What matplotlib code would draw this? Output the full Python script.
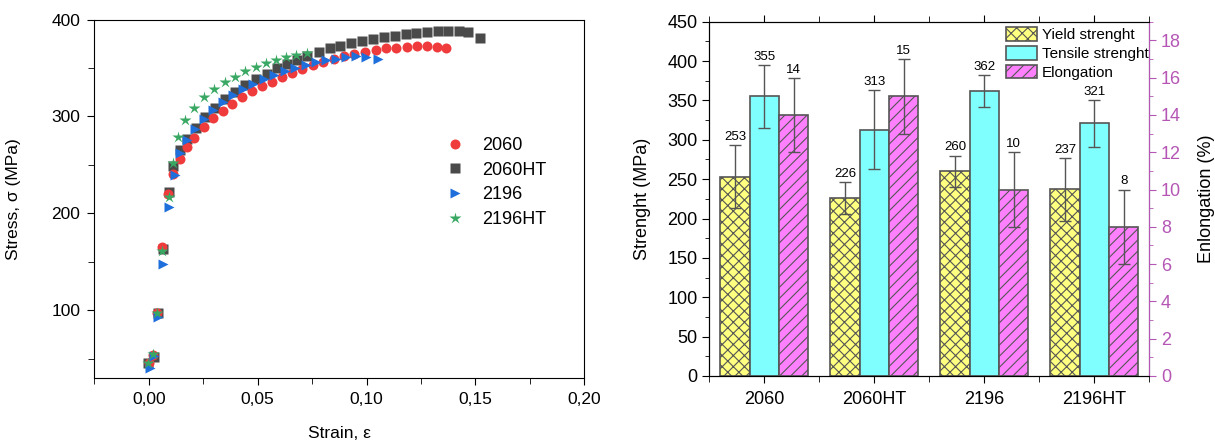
import numpy as np
import matplotlib.pyplot as plt
from matplotlib.ticker import MultipleLocator, FuncFormatter

plt.rcParams['font.family'] = ['Liberation Sans', 'DejaVu Sans']
plt.rcParams['hatch.linewidth'] = 0.8

### Stress-strain curves
strain_2060 = [0.0000, 0.0020, 0.0037, 0.0061, 0.0089, 0.0110, 0.0142, 0.0176, 0.0210,
               0.0252, 0.0296, 0.0339, 0.0383, 0.0427, 0.0474, 0.0519, 0.0564, 0.0613,
               0.0657, 0.0705, 0.0753, 0.0802, 0.0849, 0.0895, 0.0941, 0.0993, 0.1045,
               0.1091, 0.1136, 0.1185, 0.1231, 0.1278, 0.1324, 0.1365]
stress_2060 = [46, 54, 97, 165, 220, 241, 256, 268, 278,
               289, 298, 306, 313, 320, 326, 331, 336, 341,
               345, 349, 353, 356.5, 359.5, 362, 364.5, 367, 368.6,
               370.4, 370.7, 371.4, 372.4, 372.8, 371.4, 370.4]

strain_2060ht = [-0.0005, 0.0023, 0.0043, 0.0066, 0.0092, 0.0110, 0.0144, 0.0178, 0.0215,
                 0.0260, 0.0305, 0.0351, 0.0397, 0.0442, 0.0491, 0.0542, 0.0587, 0.0633,
                 0.0683, 0.0729, 0.0782, 0.0831, 0.0879, 0.0927, 0.0979, 0.1029, 0.1080,
                 0.1130, 0.1182, 0.1229, 0.1278, 0.1327, 0.1376, 0.1423, 0.1468, 0.1520]
stress_2060ht = [45, 52, 97, 163, 222, 249, 265, 277, 288,
                 299, 309, 318, 325.6, 332.5, 338.7, 343.8, 349.7, 353.9,
                 358.3, 362.4, 366.9, 370.4, 372.9, 375.5, 378.2, 380, 382.3,
                 383.4, 385.5, 386.5, 387.5, 388.2, 388.2, 388.2, 387.2, 380.7]

strain_2196 = [0.0005, 0.0023, 0.0041, 0.0066, 0.0095, 0.0119, 0.0145, 0.0176, 0.0214,
               0.0255, 0.0297, 0.0343, 0.0389, 0.0435, 0.0480, 0.0529, 0.0576, 0.0625,
               0.0671, 0.0720, 0.0766, 0.0812, 0.0858, 0.0904, 0.0953, 0.0999, 0.1052]
stress_2196 = [40, 53, 93, 148, 207, 240, 262, 276, 287,
               297, 307, 315, 322, 328, 334, 339, 343, 347,
               350, 353, 356.5, 358.3, 359.5, 361, 362.4, 361, 359]

strain_2196ht = [-0.0005, 0.0018, 0.0038, 0.0063, 0.0092, 0.0110, 0.0135, 0.0168, 0.0208,
                 0.0253, 0.0302, 0.0351, 0.0397, 0.0442, 0.0491, 0.0537, 0.0583, 0.0629,
                 0.0676, 0.0725]
stress_2196ht = [45, 55, 97, 161, 217, 252, 279, 296, 309,
                 320, 328, 336, 341, 347, 351, 355.5, 358.3, 361.7,
                 363.5, 365.2]

### Mechanical properties
grades = ['2060', '2060HT', '2196', '2196HT']
yield_str = [253, 226, 260, 237]
yield_err = [40, 20, 20, 40]
tensile_str = [355, 313, 362, 321]
tensile_err = [40, 50, 20, 30]
elongation = [14, 15, 10, 8]
elongation_err = [2, 2, 2, 2]

purple = '#B556B5'
edge = '#555555'

fig = plt.figure(figsize=(12.15, 4.4), dpi=100)

### Left: stress-strain
ax = fig.add_axes([0.0776, 0.1409, 0.4033, 0.8145])
ax.plot(strain_2060, stress_2060, 'o', ms=7.2, color='#EF3B3C', mec='none', label='2060', zorder=3)
ax.plot(strain_2060ht, stress_2060ht, 's', ms=6.5, color='#4A4A4A', mec='none', label='2060HT', zorder=2)
ax.plot(strain_2196, stress_2196, '>', ms=7.5, color='#1E6FDC', mec='none', label='2196', zorder=4)
ax.plot(strain_2196ht, stress_2196ht, '*', ms=9, color='#38A862', mec='none', label='2196HT', zorder=5)

ax.set_xlim(-0.025, 0.20)
ax.set_ylim(30, 400)
ax.xaxis.set_major_locator(MultipleLocator(0.05))
ax.xaxis.set_minor_locator(MultipleLocator(0.025))
ax.yaxis.set_major_locator(MultipleLocator(100))
ax.yaxis.set_minor_locator(MultipleLocator(50))
ax.xaxis.set_major_formatter(FuncFormatter(lambda v, p: f'{v:.2f}'.replace('.', ',')))
ax.tick_params(which='both', direction='out', labelsize=12.5, top=False, right=False)
ax.tick_params(which='major', length=5, pad=5)
ax.tick_params(which='minor', length=4)
ax.set_xlabel('Strain, ε', fontsize=12.5, labelpad=14)
ax.set_ylabel('Stress, σ (MPa)', fontsize=12.5, labelpad=22)
ax.legend(loc='upper left', bbox_to_anchor=(0.717, 0.672), frameon=False, fontsize=13,
          handlelength=1.0, handletextpad=1.0, labelspacing=0.42, borderpad=0, borderaxespad=0)

### Right: strength and elongation bars
bx = fig.add_axes([0.5838, 0.1455, 0.3621, 0.8052])
bx2 = bx.twinx()
x = np.arange(len(grades))
w = 0.8 / 3
ekw = dict(ecolor=edge, elinewidth=1, capsize=4, capthick=1)

b1 = bx.bar(x - w, yield_str, w, yerr=yield_err, color='#FFFF80', edgecolor=edge,
            hatch='xxx', lw=1.2, error_kw=ekw, label='Yield strenght')
b2 = bx.bar(x, tensile_str, w, yerr=tensile_err, color='#80FFFF', edgecolor=edge,
            lw=1.2, error_kw=ekw, label='Tensile strenght')
b3 = bx2.bar(x + w, elongation, w, yerr=elongation_err, color='#FF80FF', edgecolor=edge,
             hatch='///', lw=1.2, error_kw=ekw, label='Elongation')

for xi, v, e in zip(x - w, yield_str, yield_err):
    bx.annotate(str(v), (xi, v + e), xytext=(0, 1.5), textcoords='offset points',
                ha='center', va='bottom', fontsize=9.5)
for xi, v, e in zip(x, tensile_str, tensile_err):
    bx.annotate(str(v), (xi, v + e), xytext=(0, 1.5), textcoords='offset points',
                ha='center', va='bottom', fontsize=9.5)
for xi, v, e in zip(x + w, elongation, elongation_err):
    bx2.annotate(str(v), (xi, v + e), xytext=(0, 1.5), textcoords='offset points',
                 ha='center', va='bottom', fontsize=9.5)

bx.set_xlim(-0.5, 3.5)
bx.set_ylim(0, 450)
bx.set_xticks(x)
bx.set_xticklabels(grades)
bx.xaxis.set_minor_locator(MultipleLocator(0.5))
bx.yaxis.set_major_locator(MultipleLocator(50))
bx.yaxis.set_minor_locator(MultipleLocator(25))
bx.tick_params(which='both', labelsize=13)
bx.tick_params(axis='x', which='both', direction='out', top=True)
bx.tick_params(axis='x', which='major', length=5, pad=6)
bx.tick_params(axis='x', which='minor', length=4)
bx.tick_params(axis='y', which='major', direction='out', length=5)
bx.tick_params(axis='y', which='minor', direction='out', length=3)
bx.set_ylabel('Strenght (MPa)', fontsize=13, labelpad=12)

bx2.set_ylim(0, 19)
bx2.yaxis.set_major_locator(MultipleLocator(2))
bx2.yaxis.set_minor_locator(MultipleLocator(1))
bx2.tick_params(axis='y', which='both', direction='out', colors=purple, labelsize=13)
bx2.tick_params(axis='y', which='major', length=5)
bx2.tick_params(axis='y', which='minor', length=3)
bx2.spines['right'].set_color(purple)
bx2.set_ylabel('Enlongation (%)', fontsize=13, labelpad=12)

bx2.legend([b1, b2, b3], ['Yield strenght', 'Tensile strenght', 'Elongation'],
           loc='upper left', bbox_to_anchor=(0.675, 0.985), frameon=False, fontsize=11,
           handlelength=2.0, handleheight=1.0, handletextpad=0.35, labelspacing=0.25,
           borderpad=0, borderaxespad=0)

fig.savefig('out.png', dpi=100)
